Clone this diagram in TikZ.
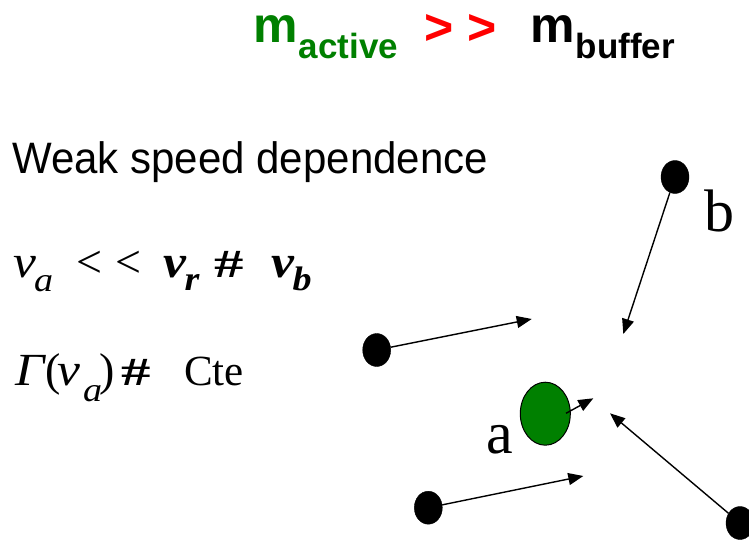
\documentclass[tikz,border=0pt]{standalone}
\usepackage{fontspec}
\setmainfont{Liberation Serif}
\newfontfamily\arial{Liberation Sans}
\usetikzlibrary{shapes.geometric,arrows.meta}
\definecolor{pgreen}{RGB}{0,128,0}
\definecolor{pred}{RGB}{255,0,0}
\newcommand{\eqf}{\fontsize{46}{46}\selectfont}
\newcommand{\subf}{\fontsize{34}{34}\selectfont}
\newcommand{\wide}[1]{\scalebox{1.12}[1]{#1}}
\newcommand{\hashsign}{\scalebox{1.4}[0.95]{\fontsize{42}{42}\selectfont\bfseries\#}}
\begin{document}
\begin{tikzpicture}[x=1pt,y=-1pt,
  txt/.style={inner sep=0pt, anchor=base west},
  titlebig/.style={font=\arial\bfseries\fontsize{50}{50}\selectfont},
  titlesub/.style={font=\arial\bfseries\fontsize{35}{35}\selectfont},
  eq/.style={font=\eqf},
  eqi/.style={font=\eqf\itshape},
  eqbi/.style={font=\eqf\bfseries\itshape},
  subi/.style={font=\subf\itshape},
  dot/.style={ellipse, fill=black, draw=black, minimum width=28pt, minimum height=33pt, inner sep=0pt},
  vel/.style={line width=1.4pt, -{Triangle[length=15pt,width=12pt]}},
]
\clip (0,0) rectangle (749,557);
\fill[white] (0,0) rectangle (749,557);

% title
\node[txt, titlebig, text=pgreen] (m1) at (253,42) {m};
\node[txt, titlesub, text=pgreen] (s1) at (298.5,58.3) {active};
\node[txt, titlebig, text=pred] (gg) at (424,44) {> >};
\node[txt, titlebig] (m2) at (530.5,42) {m};
\node[txt, titlesub] (s2) at (575.5,58.3) {buffer};

% heading
\node[txt, font=\arial\fontsize{44}{44}\selectfont] (w) at (12,173.5) {\scalebox{0.955}[1]{Weak speed dependence}};

% line 1
\node[txt, eqi] (v1) at (13,277.5) {\wide{v}\kern-2pt\raisebox{-13.5pt}{\subf\wide{a}}};
\node[txt, eq] (l1) at (76,277.5) {<};
\node[txt, eq] (l2) at (115,277.5) {<};
\node[txt, eqbi] (v2) at (163,277.5) {\wide{v}\kern-1.5pt\raisebox{-13pt}{\subf\wide{r}}};
\node[txt, eq] (h1) at (214,277.5) {\hashsign};
\node[txt, eqbi] (v3) at (271,277.5) {\wide{v}\kern-1.5pt\raisebox{-13pt}{\subf\wide{b}}};

% line 2
\node[txt, eqi] (g) at (15,385) {\wide{Γ}};
\node[txt, eq] (p1) at (45,385) {(};
\node[txt, eqi] (v4) at (57,385) {\wide{v}};
\node[txt, subi] (a4) at (83,401) {\wide{a}};
\node[txt, eq] (p2) at (99,385) {)};
\node[txt, eq] (h2) at (121,385) {\hashsign};
\node[txt, font=\fontsize{43}{43}\selectfont] (cte) at (184,385) {Cte};

% particles
\node[dot] (db) at (675,177) {};
\node[dot] (dl) at (376.7,350) {};
\node[dot] (dd) at (428.3,507.7) {};
\node[dot] (dr) at (740,523) {};
\node[ellipse, fill=pgreen, draw=black, line width=1pt, minimum width=50pt, minimum height=63pt, inner sep=0pt] (ga) at (545.3,413.7) {};

\node[txt, font=\fontsize{60}{60}\selectfont] (lb) at (704,231.7) {b};
\node[txt, font=\fontsize{60}{60}\selectfont] (la) at (486,453.3) {a};

\coordinate (tb) at (623.3,334);
\coordinate (tl) at (531.7,319);
\coordinate (td) at (583.3,476);
\coordinate (tr) at (610,413.3);
\coordinate (gs) at (566,413.3);
\coordinate (tg) at (593.3,398.3);

\draw[vel] (db) -- (tb);
\draw[vel] (dl) -- (tl);
\draw[vel] (dd) -- (td);
\draw[vel] (dr) -- (tr);
\draw[vel] (gs) -- (tg);
\end{tikzpicture}
\end{document}
